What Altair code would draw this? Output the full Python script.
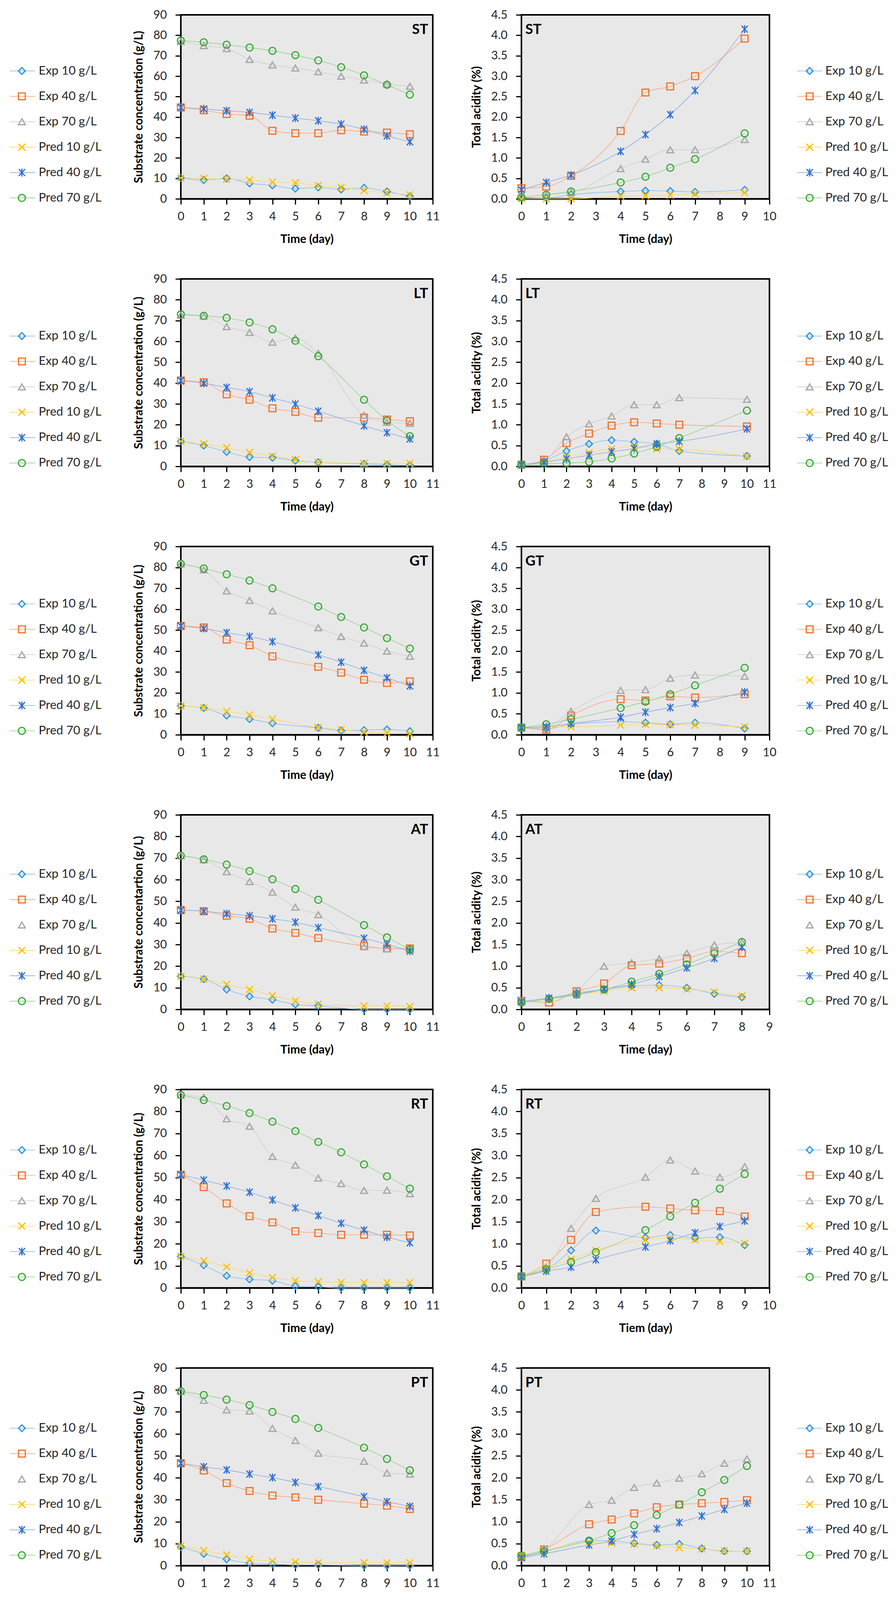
import altair as alt
import pandas as pd

SERIES = ["Exp 10 g/L", "Exp 40 g/L", "Exp 70 g/L", "Pred 10 g/L", "Pred 40 g/L", "Pred 70 g/L"]
MARK_COLORS = ["#2E93D6", "#F0702A", "#A5A5A5", "#FFC000", "#2E6FD0", "#38A636"]
LINE_COLORS = ["#8CC0EA", "#F6A97E", "#CFCFCF", "#FFD866", "#8EABE2", "#93D38E"]
X_PATH = "M-1,-1L1,1M-1,1L1,-1"
AST_PATH = "M-0.9,-1L0.9,1M-0.9,1L0.9,-1M0,-1.15L0,1.15"
SHAPES = ["diamond", "square", "triangle-up", X_PATH, AST_PATH, "circle"]
SIZES = [300, 320, 300, 290, 330, 320]

SUB_TITLE = "Substrate concentration (g/L)"
SUB_TITLE_AT = "Substrate concentartion (g/L)"
ACID_TITLE = "Total acidity (%)"
# legend entries drawn without their connecting line in the reference
NO_LEGEND_LINE = {"AT": ["Exp 70 g/L"], "PT": ["Exp 70 g/L"]}

# ---------------- ST ----------------
ST_SUB_DAYS = [0, 1, 2, 3, 4, 5, 6, 7, 8, 9, 10]
ST_SUB = {
    "Exp 10 g/L": [10.2, 9.2, 10.0, 7.6, 6.6, 5.0, 5.6, 4.6, 5.4, 3.6, 1.2],
    "Exp 40 g/L": [44.7, 43.3, 41.5, 40.7, 33.3, 32.1, 32.1, 33.6, 32.9, 32.4, 31.6],
    "Exp 70 g/L": [77.0, 74.9, 73.5, 68.2, 65.5, 64.0, 62.2, 60.0, 58.1, 56.2, 55.0],
    "Pred 10 g/L": [10.2, 10.0, 9.6, 9.2, 8.3, 7.9, 6.5, 5.6, 4.1, 2.9, 2.0],
    "Pred 40 g/L": [44.7, 44.0, 43.1, 42.3, 40.9, 39.5, 38.2, 36.5, 34.0, 30.8, 27.9],
    "Pred 70 g/L": [77.4, 76.6, 75.4, 74.0, 72.4, 70.3, 67.7, 64.4, 60.4, 55.8, 51.0],
}
ST_ACID_DAYS = [0, 1, 2, 4, 5, 6, 7, 9]
ST_ACID = {
    "Exp 10 g/L": [0.03, 0.02, 0.10, 0.18, 0.20, 0.19, 0.17, 0.22],
    "Exp 40 g/L": [0.26, 0.30, 0.56, 1.66, 2.60, 2.75, 3.00, 3.92],
    "Exp 70 g/L": [0.04, 0.10, 0.16, 0.74, 0.97, 1.20, 1.20, 1.45],
    "Pred 10 g/L": [0.0, 0.0, 0.0, 0.07, 0.08, 0.09, 0.12, 0.15],
    "Pred 40 g/L": [0.22, 0.40, 0.58, 1.16, 1.57, 2.06, 2.65, 4.15],
    "Pred 70 g/L": [0.04, 0.10, 0.18, 0.40, 0.54, 0.76, 0.97, 1.60],
}

# ---------------- LT ----------------
LT_SUB_DAYS = [0, 1, 2, 3, 4, 5, 6, 8, 9, 10]
LT_SUB = {
    "Exp 10 g/L": [12.0, 10.0, 7.0, 4.5, 4.2, 2.8, 2.0, 1.2, 0.8, 0.5],
    "Exp 40 g/L": [41.2, 40.4, 34.6, 32.0, 27.9, 26.2, 23.4, 23.4, 22.5, 21.7],
    "Exp 70 g/L": [72.6, 72.1, 67.1, 64.3, 59.6, 61.6, 54.3, 24.5, 21.2, 20.7],
    "Pred 10 g/L": [12.0, 10.8, 9.0, 6.7, 5.0, 3.2, 2.0, 1.5, 1.5, 1.5],
    "Pred 40 g/L": [41.2, 39.9, 37.9, 35.9, 32.9, 29.9, 26.5, 19.5, 16.2, 13.2],
    "Pred 70 g/L": [73.0, 72.3, 71.3, 69.1, 65.8, 60.3, 52.9, 32.0, 22.0, 14.5],
}
LT_ACID_DAYS = [0, 1, 2, 3, 4, 5, 6, 7, 10]
LT_ACID = {
    "Exp 10 g/L": [0.04, 0.13, 0.37, 0.54, 0.63, 0.59, 0.54, 0.37, 0.25],
    "Exp 40 g/L": [0.04, 0.16, 0.56, 0.79, 0.98, 1.06, 1.03, 1.00, 0.96],
    "Exp 70 g/L": [0.04, 0.14, 0.71, 1.02, 1.21, 1.48, 1.48, 1.65, 1.61],
    "Pred 10 g/L": [0.04, 0.10, 0.23, 0.33, 0.42, 0.48, 0.42, 0.41, 0.24],
    "Pred 40 g/L": [0.04, 0.10, 0.18, 0.27, 0.35, 0.43, 0.54, 0.60, 0.90],
    "Pred 70 g/L": [0.04, 0.06, 0.08, 0.11, 0.19, 0.31, 0.47, 0.68, 1.34],
}

# ---------------- GT ----------------
GT_SUB_DAYS = [0, 1, 2, 3, 4, 6, 7, 8, 9, 10]
GT_SUB = {
    "Exp 10 g/L": [13.8, 12.8, 9.2, 7.5, 5.5, 3.3, 2.0, 2.2, 2.5, 1.7],
    "Exp 40 g/L": [52.0, 51.3, 45.5, 42.8, 37.5, 32.5, 29.7, 26.3, 24.8, 25.5],
    "Exp 70 g/L": [81.7, 78.8, 68.8, 64.2, 59.2, 51.2, 47.0, 43.8, 40.0, 37.5],
    "Pred 10 g/L": [13.8, 13.0, 11.2, 9.5, 7.5, 3.5, 2.5, 1.3, 0.8, 0.5],
    "Pred 40 g/L": [52.0, 50.8, 48.8, 47.0, 44.5, 38.2, 34.7, 30.8, 27.2, 23.3],
    "Pred 70 g/L": [81.7, 79.5, 76.7, 73.7, 70.0, 61.3, 56.3, 51.3, 46.2, 41.2],
}
GT_ACID_DAYS = [0, 1, 2, 4, 5, 6, 7, 9]
GT_ACID = {
    "Exp 10 g/L": [0.17, 0.14, 0.25, 0.31, 0.29, 0.25, 0.29, 0.15],
    "Exp 40 g/L": [0.17, 0.12, 0.46, 0.85, 0.82, 0.92, 0.89, 0.97],
    "Exp 70 g/L": [0.17, 0.19, 0.56, 1.06, 1.08, 1.35, 1.43, 1.40],
    "Pred 10 g/L": [0.17, 0.19, 0.19, 0.23, 0.25, 0.24, 0.23, 0.19],
    "Pred 40 g/L": [0.17, 0.19, 0.27, 0.42, 0.54, 0.65, 0.75, 1.02],
    "Pred 70 g/L": [0.17, 0.25, 0.37, 0.64, 0.79, 0.97, 1.18, 1.60],
}

# ---------------- AT ----------------
AT_SUB_DAYS = [0, 1, 2, 3, 4, 5, 6, 8, 9, 10]
AT_SUB = {
    "Exp 10 g/L": [15.3, 14.0, 9.2, 6.0, 4.5, 2.3, 1.6, 0.0, 0.0, 0.0],
    "Exp 40 g/L": [45.9, 45.4, 43.3, 41.9, 37.4, 35.4, 33.0, 29.3, 28.2, 28.2],
    "Exp 70 g/L": [71.1, 69.2, 63.7, 59.1, 54.3, 47.3, 43.8, 29.0, 28.0, 27.7],
    "Pred 10 g/L": [15.3, 14.0, 11.6, 9.2, 6.4, 4.0, 2.4, 1.6, 1.6, 1.3],
    "Pred 40 g/L": [45.9, 45.4, 44.3, 43.3, 41.9, 40.3, 37.8, 32.9, 30.1, 26.9],
    "Pred 70 g/L": [71.1, 69.4, 67.0, 64.0, 60.2, 55.7, 50.7, 39.0, 33.3, 27.7],
}
AT_ACID_DAYS = [0, 1, 2, 3, 4, 5, 6, 7, 8]
AT_ACID = {
    "Exp 10 g/L": [0.18, 0.26, 0.38, 0.46, 0.54, 0.56, 0.50, 0.36, 0.28],
    "Exp 40 g/L": [0.20, 0.16, 0.42, 0.60, 1.02, 1.06, 1.18, 1.34, 1.30],
    "Exp 70 g/L": [0.18, 0.26, 0.43, 1.00, 1.08, 1.17, 1.30, 1.49, 1.55],
    "Pred 10 g/L": [0.18, 0.24, 0.34, 0.42, 0.50, 0.50, 0.47, 0.40, 0.31],
    "Pred 40 g/L": [0.18, 0.26, 0.35, 0.47, 0.58, 0.76, 0.96, 1.18, 1.44],
    "Pred 70 g/L": [0.16, 0.24, 0.34, 0.46, 0.64, 0.82, 1.04, 1.30, 1.56],
}

# ---------------- RT ----------------
RT_SUB_DAYS = [0, 1, 2, 3, 4, 5, 6, 7, 8, 9, 10]
RT_SUB = {
    "Exp 10 g/L": [14.3, 10.3, 5.5, 3.9, 3.3, 0.8, 0.5, 0.0, 0.0, 0.0, 0.0],
    "Exp 40 g/L": [51.3, 45.7, 38.3, 32.5, 29.7, 25.7, 24.9, 24.1, 24.1, 24.1, 23.8],
    "Exp 70 g/L": [87.5, 86.4, 76.7, 73.3, 59.6, 55.7, 49.8, 47.3, 44.2, 44.3, 42.7],
    "Pred 10 g/L": [14.3, 12.3, 9.5, 6.8, 4.7, 3.3, 2.8, 2.5, 2.4, 2.4, 2.4],
    "Pred 40 g/L": [51.3, 48.9, 46.2, 43.4, 39.9, 36.3, 32.8, 29.3, 26.2, 23.0, 20.5],
    "Pred 70 g/L": [87.5, 85.2, 82.5, 79.3, 75.4, 71.1, 66.2, 61.5, 56.0, 50.6, 45.0],
}
RT_ACID_DAYS = [0, 1, 2, 3, 5, 6, 7, 8, 9]
RT_ACID = {
    "Exp 10 g/L": [0.26, 0.42, 0.85, 1.30, 1.14, 1.20, 1.13, 1.15, 0.97],
    "Exp 40 g/L": [0.26, 0.55, 1.09, 1.72, 1.84, 1.80, 1.76, 1.74, 1.62],
    "Exp 70 g/L": [0.26, 0.46, 1.35, 2.03, 2.51, 2.90, 2.65, 2.51, 2.75],
    "Pred 10 g/L": [0.26, 0.46, 0.65, 0.85, 1.09, 1.13, 1.09, 1.05, 1.01],
    "Pred 40 g/L": [0.26, 0.38, 0.47, 0.64, 0.93, 1.07, 1.25, 1.39, 1.52],
    "Pred 70 g/L": [0.26, 0.42, 0.59, 0.81, 1.31, 1.62, 1.93, 2.25, 2.58],
}

# ---------------- PT ----------------
PT_SUB_DAYS = [0, 1, 2, 3, 4, 5, 6, 8, 9, 10]
PT_SUB = {
    "Exp 10 g/L": [8.5, 5.4, 2.9, 1.1, 0.7, 0.3, 0.3, 0.0, 0.0, 0.0],
    "Exp 40 g/L": [46.6, 43.3, 37.6, 34.0, 31.9, 31.1, 30.0, 28.2, 27.3, 25.8],
    "Exp 70 g/L": [79.4, 75.3, 70.9, 70.4, 62.5, 57.0, 51.2, 47.5, 42.2, 41.7],
    "Pred 10 g/L": [9.0, 6.9, 4.9, 2.9, 2.0, 1.6, 1.3, 1.3, 1.3, 1.3],
    "Pred 40 g/L": [46.6, 45.0, 43.6, 41.7, 40.1, 37.9, 36.0, 31.4, 29.1, 27.0],
    "Pred 70 g/L": [79.4, 77.7, 75.6, 73.1, 70.0, 66.8, 62.7, 53.7, 48.6, 43.4],
}
PT_ACID_DAYS = [0, 1, 3, 4, 5, 6, 7, 8, 9, 10]
PT_ACID = {
    "Exp 10 g/L": [0.19, 0.31, 0.57, 0.56, 0.51, 0.47, 0.49, 0.39, 0.33, 0.33],
    "Exp 40 g/L": [0.20, 0.37, 0.94, 1.05, 1.19, 1.33, 1.39, 1.42, 1.45, 1.49],
    "Exp 70 g/L": [0.23, 0.37, 1.39, 1.49, 1.78, 1.88, 1.99, 2.09, 2.33, 2.43],
    "Pred 10 g/L": [0.23, 0.34, 0.53, 0.51, 0.49, 0.45, 0.41, 0.38, 0.34, 0.33],
    "Pred 40 g/L": [0.18, 0.27, 0.47, 0.56, 0.71, 0.84, 0.98, 1.13, 1.28, 1.42],
    "Pred 70 g/L": [0.23, 0.33, 0.57, 0.74, 0.92, 1.15, 1.39, 1.67, 1.95, 2.27],
}

# ---------------- BBT ----------------
BBT_SUB_DAYS = [0, 1, 2, 3, 4, 5, 6, 7, 8, 9, 10]
BBT_SUB = {
    "Exp 10 g/L": [12.5, 12.0, 6.3, 4.6, 3.8, 3.0, 2.5, 1.3, 0.8, 0.5, 0.5],
    "Exp 40 g/L": [46.6, 45.3, 44.5, 39.5, 37.9, 35.9, 35.9, 34.3, 34.0, 33.1, 33.0],
    "Exp 70 g/L": [79.6, 78.0, 75.8, 77.0, 73.5, 71.7, 68.4, 65.6, 64.3, 62.6, 60.3],
    "Pred 10 g/L": [12.5, 11.7, 9.2, 5.9, 3.0, 1.3, 0.5, 0.5, 0.5, 0.5, 0.5],
    "Pred 40 g/L": [46.6, 46.1, 45.0, 44.2, 43.0, 41.7, 40.5, 39.2, 37.2, 35.4, 33.8],
    "Pred 70 g/L": [79.6, 78.7, 77.9, 77.1, 76.0, 74.6, 72.5, 69.7, 66.4, 62.6, 58.2],
}
BBT_ACID_DAYS = [0, 1, 2, 3, 4, 5, 6, 7, 8, 9]
BBT_ACID = {
    "Exp 10 g/L": [0.15, 0.25, 0.31, 0.38, 0.52, 0.52, 0.50, 0.44, 0.44, 0.44],
    "Exp 40 g/L": [0.15, 0.27, 0.70, 1.04, 1.23, 1.39, 1.49, 1.46, 1.49, 1.64],
    "Exp 70 g/L": [0.15, 0.25, 0.69, 1.08, 1.31, 1.46, 1.57, 1.60, 1.72, 1.80],
    "Pred 10 g/L": [0.15, 0.19, 0.27, 0.38, 0.50, 0.52, 0.51, 0.48, 0.46, 0.42],
    "Pred 40 g/L": [0.15, 0.27, 0.41, 0.56, 0.71, 0.89, 1.09, 1.39, 1.60, 1.78],
    "Pred 70 g/L": [0.15, 0.22, 0.29, 0.40, 0.54, 0.71, 0.97, 1.25, 1.62, 2.07],
}

ROWS = [
    ("ST", ST_SUB_DAYS, ST_SUB, SUB_TITLE, ST_ACID_DAYS, ST_ACID, 10, "Time (day)"),
    ("LT", LT_SUB_DAYS, LT_SUB, SUB_TITLE, LT_ACID_DAYS, LT_ACID, 11, "Time (day)"),
    ("GT", GT_SUB_DAYS, GT_SUB, SUB_TITLE, GT_ACID_DAYS, GT_ACID, 10, "Time (day)"),
    ("AT", AT_SUB_DAYS, AT_SUB, SUB_TITLE_AT, AT_ACID_DAYS, AT_ACID, 9, "Time (day)"),
    ("RT", RT_SUB_DAYS, RT_SUB, SUB_TITLE, RT_ACID_DAYS, RT_ACID, 10, "Tiem (day)"),
    ("PT", PT_SUB_DAYS, PT_SUB, SUB_TITLE, PT_ACID_DAYS, PT_ACID, 11, "Time (day)"),
    ("BBT", BBT_SUB_DAYS, BBT_SUB, SUB_TITLE, BBT_ACID_DAYS, BBT_ACID, 10, "Time (day)"),
]

ROW_HEIGHTS = [471, 480, 482, 498, 508, 506, 502]
LEFT_W = 645
RIGHT_W = 635
FONT = "Lato"

color_scale = alt.Scale(domain=SERIES, range=MARK_COLORS)
stroke_scale = alt.Scale(domain=SERIES, range=LINE_COLORS)
shape_scale = alt.Scale(domain=SERIES, range=SHAPES)
size_scale = alt.Scale(domain=SERIES, range=SIZES)


def long_frame(days, values):
    recs = []
    for k, s in enumerate(SERIES):
        for d, v in zip(days, values[s]):
            recs.append({"day": d, "value": v, "series": s, "k": k})
    return pd.DataFrame(recs)


def panel(label, days, values, ytitle, xmax, xtitle, ymax, ystep, yfmt, width, height, side):
    df = long_frame(days, values)
    xscale = alt.Scale(domain=[0, xmax], nice=False, zero=False)
    yscale = alt.Scale(domain=[0, ymax], nice=False, zero=True)
    nsteps = int(round(ymax / ystep))
    yvals = [round(i * ystep, 2) for i in range(nsteps + 1)]
    xaxis = alt.Axis(values=list(range(xmax + 1)), title=xtitle)
    yaxis = alt.Axis(values=yvals, format=yfmt, title=ytitle)
    base = alt.Chart(df)
    lines = base.mark_line(interpolate="monotone", strokeWidth=1.6).encode(
        x=alt.X("day:Q", scale=xscale, axis=xaxis),
        y=alt.Y("value:Q", scale=yscale, axis=yaxis),
        stroke=alt.Stroke("series:N", scale=stroke_scale, legend=None),
    )
    pts = base.mark_point(filled=False, strokeWidth=3, opacity=1).encode(
        x=alt.X("day:Q", scale=xscale, axis=xaxis),
        y=alt.Y("value:Q", scale=yscale, axis=yaxis),
        color=alt.Color("series:N", scale=color_scale, legend=None),
        shape=alt.Shape("series:N", scale=shape_scale, legend=None),
        size=alt.Size("series:N", scale=size_scale, legend=None),
        order=alt.Order("k:Q"),
    )
    lab_df = pd.DataFrame({"label": [label]})
    if side == "left":
        lab = alt.Chart(lab_df).mark_text(
            align="right", baseline="middle", fontSize=36, fontWeight="bold", font=FONT, color="black"
        ).encode(x=alt.value(width - 12), y=alt.value(38), text="label:N")
        lx0, lxm, lx1, ltx = -438, -407, -373, -364
    else:
        lab = alt.Chart(lab_df).mark_text(
            align="left", baseline="middle", fontSize=36, fontWeight="bold", font=FONT, color="black"
        ).encode(x=alt.value(10), y=alt.value(38), text="label:N")
        lx0, lxm, lx1, ltx = width + 71, width + 103, width + 135, width + 143

    skip = NO_LEGEND_LINE.get(label, [])
    leg_df = pd.DataFrame({
        "series": SERIES,
        "ly": [0.305 * height + 65 * i for i in range(len(SERIES))],
        "hasline": [0 if s in skip else 1 for s in SERIES],
    })
    lb = alt.Chart(leg_df)
    ly = alt.Y("ly:Q", scale=None, axis=None)
    leg_line = lb.transform_filter("datum.hasline == 1").mark_rule(strokeWidth=1.6).encode(
        x=alt.value(lx0), x2=alt.value(lx1), y=ly,
        stroke=alt.Stroke("series:N", scale=stroke_scale, legend=None),
    )
    leg_pt = lb.mark_point(filled=False, strokeWidth=3, opacity=1).encode(
        x=alt.value(lxm), y=ly,
        color=alt.Color("series:N", scale=color_scale, legend=None),
        shape=alt.Shape("series:N", scale=shape_scale, legend=None),
        size=alt.Size("series:N", scale=size_scale, legend=None),
    )
    leg_txt = lb.mark_text(align="left", baseline="middle", fontSize=31, font=FONT, color="#262626").encode(
        x=alt.value(ltx), y=ly, text="series:N"
    )
    return alt.layer(lines, pts, lab, leg_line, leg_pt, leg_txt).properties(width=width, height=height)


panels = []
for (label, sd, sv, stitle, ad, av, axmax, axtitle), h in zip(ROWS, ROW_HEIGHTS):
    panels.append(panel(label, sd, sv, stitle, 11, "Time (day)", 90, 10, "d", LEFT_W, h, "left"))
    panels.append(panel(label, ad, av, ACID_TITLE, axmax, axtitle, 4.5, 0.5, ".1f", RIGHT_W, h, "right"))

chart = alt.concat(
    *panels, columns=2, spacing={"row": 205, "column": 227}, bounds="flush"
).properties(
    padding={"left": 14, "top": 13, "right": 4, "bottom": 6}
).configure_view(
    stroke="black", strokeWidth=4, fill="#e8e8e8"
).configure_axis(
    labelFont=FONT, labelFontSize=30, labelColor="#262626",
    titleFont=FONT, titleFontSize=30, titleFontWeight="bold", titleColor="black",
    tickColor="black", tickWidth=3, tickSize=14,
    domainColor="black", domainWidth=3, grid=False,
    labelFlush=False, labelOverlap=False,
).configure_axisX(
    labelPadding=16, titlePadding=28, domainWidth=4
).configure_axisY(
    labelPadding=22, titlePadding=22
)

chart.save("out.html", embed_options={"renderer": "svg", "actions": False})
